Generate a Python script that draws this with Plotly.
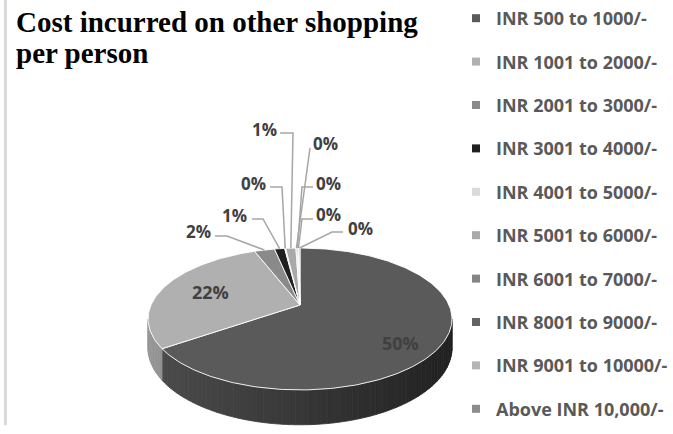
import numpy as np
import plotly.graph_objects as go

# ---------------- data ----------------
categories = [
    "INR 500 to 1000/-", "INR 1001 to 2000/-", "INR 2001 to 3000/-",
    "INR 3001 to 4000/-", "INR 4001 to 5000/-", "INR 5001 to 6000/-",
    "INR 6001 to 7000/-", "INR 8001 to 9000/-", "INR 9001 to 10000/-",
    "Above INR 10,000/-",
]
values = [50, 22, 2, 1, 0.1, 1, 0.1, 0.1, 0.1, 0.1]
colors = ["#5a5a5a", "#b0b0b0", "#8a8a8a", "#1f1f1f", "#dadada",
          "#a9a9a9", "#858585", "#636363", "#b5b5b5", "#8c8c8c"]
title_lines = ["Cost incurred on other shopping", "per person"]

# ---------------- geometry / style ----------------
W, HGT = 673, 434
CX, CY = 300, 305          # apex of the pie (pixels)
A, B, P = 149.0, 68.2, 0.197
DEPTH = 28.0
TEXT_COL = "#404040"
LEAD_COL = "#a6a6a6"
SANS = "Open Sans"

# label placements (pixels) for each slice: text centre, leader start, leader elbow
label_pos = [(400, 343), (210, 292), (198, 231), (234, 215), (253, 183),
             (264, 129), (325, 143), (328, 183), (328, 214), (360, 228)]
leader_start = [None, None, (215, 236), (252, 219), (270, 187),
                (280, 133), (310, 148), (313, 187), (313, 219), (343, 232)]
leader_elbow = [None, None, (227, 236), (263, 219), (282, 187),
                (293, 133), (310, 148), (302, 187), (302, 219), (332, 232)]


def proj(phi_deg, drop=0.0, r=1.0):
    phi = np.radians(np.asarray(phi_deg, dtype=float))
    u = r * np.sin(phi)
    w = r * np.cos(phi)
    s = 1.0 / (1.0 + P * w)
    return CX + A * u * s, CY - B * w * s + DEPTH * s * drop


def shade(hexcol, k):
    h = hexcol.lstrip("#")
    r, g, b = (int(h[i:i + 2], 16) for i in (0, 2, 4))
    return "rgb(%d,%d,%d)" % (r * k, g * k, b * k)


total = float(sum(values))
ends = np.cumsum(values) / total * 360.0
starts = np.concatenate([[0.0], ends[:-1]])
mids = (starts + ends) / 2.0

fig = go.Figure()

# ---- side walls (visible front part) ----
sil = np.degrees(np.arcsin(P))
vis_a, vis_b = 90.0 + sil, 270.0 - sil
for i in range(len(values)):
    a0, b0 = max(starts[i], vis_a), min(ends[i], vis_b)
    if a0 >= b0:
        continue
    n = max(1, int(np.ceil((b0 - a0) / 2.0)))
    edges = np.linspace(a0, b0, n + 1)
    for j in range(n):
        ph = np.linspace(edges[j], edges[j + 1], 3)
        xt, yt = proj(ph)
        xb, yb = proj(ph[::-1], drop=1.0)
        xm = float(np.mean(xt))
        k = 0.85 - 0.47 * (xm - (CX - A)) / (2 * A)
        c = shade(colors[i], k)
        fig.add_trace(go.Scatter(
            x=list(xt) + list(xb) + [xt[0]], y=list(yt) + list(yb) + [yt[0]],
            mode="lines", fill="toself", fillcolor=c,
            line=dict(color=c, width=0.8), hoverinfo="skip", showlegend=False))

# ---- top surfaces ----
for i in range(len(values)):
    n = max(2, int((ends[i] - starts[i]) / 1.0) + 2)
    ph = np.linspace(starts[i], ends[i], n)
    xs, ys = proj(ph)
    fig.add_trace(go.Scatter(
        x=[CX] + list(xs) + [CX], y=[CY] + list(ys) + [CY],
        mode="lines", fill="toself", fillcolor=colors[i],
        line=dict(color="rgba(255,255,255,0.9)", width=1),
        name=categories[i], hoverinfo="name", showlegend=False))

# ---- leader lines ----
for i in range(len(values)):
    if leader_start[i] is None:
        continue
    ex, ey = proj(mids[i], r=1.0)
    fig.add_trace(go.Scatter(
        x=[leader_start[i][0], leader_elbow[i][0], float(ex)],
        y=[leader_start[i][1], leader_elbow[i][1], float(ey)],
        mode="lines", line=dict(color=LEAD_COL, width=1.5),
        hoverinfo="skip", showlegend=False))

# ---- data labels ----
for i, v in enumerate(values):
    fig.add_annotation(
        x=label_pos[i][0], y=label_pos[i][1], text="%d%%" % round(v),
        showarrow=False, xanchor="center", yanchor="middle",
        font=dict(family=SANS, size=18 if i < 2 else 17, color=TEXT_COL,
                  weight="bold"))

# ---- title (two lines) ----
for j, (line, ym) in enumerate(zip(title_lines, [22, 53])):
    fig.add_annotation(
        x=14, y=ym, text=line, showarrow=False, xanchor="left",
        yanchor="middle",
        font=dict(family="Liberation Serif", size=29, color="black",
                  weight="bold"))

# ---- legend entries ----
for i, cat in enumerate(categories):
    fig.add_trace(go.Scatter(
        x=[None], y=[None], mode="markers", name=cat, legendgroup=cat,
        marker=dict(symbol="square", size=8, color=colors[i]),
        showlegend=True))

fig.add_shape(type="line", xref="paper", yref="paper", x0=0.008, x1=0.008,
              y0=0.02, y1=1.0, line=dict(color="#d9d9d9", width=3))

fig.update_layout(
    width=W, height=HGT, margin=dict(l=0, r=0, t=0, b=0),
    paper_bgcolor="white", plot_bgcolor="white",
    xaxis=dict(range=[0, W], visible=False, fixedrange=True),
    yaxis=dict(range=[HGT, 0], visible=False, fixedrange=True),
    legend=dict(x=456 / W, xanchor="left", y=1.0, yanchor="top",
                font=dict(family=SANS, size=18, color="#595959",
                          weight="bold"),
                tracegroupgap=17, itemwidth=30, bgcolor="rgba(0,0,0,0)"),
    showlegend=True,
)

fig.write_html("out.html", config={"displayModeBar": False},
               post_script="document.body.style.margin='0px';")
